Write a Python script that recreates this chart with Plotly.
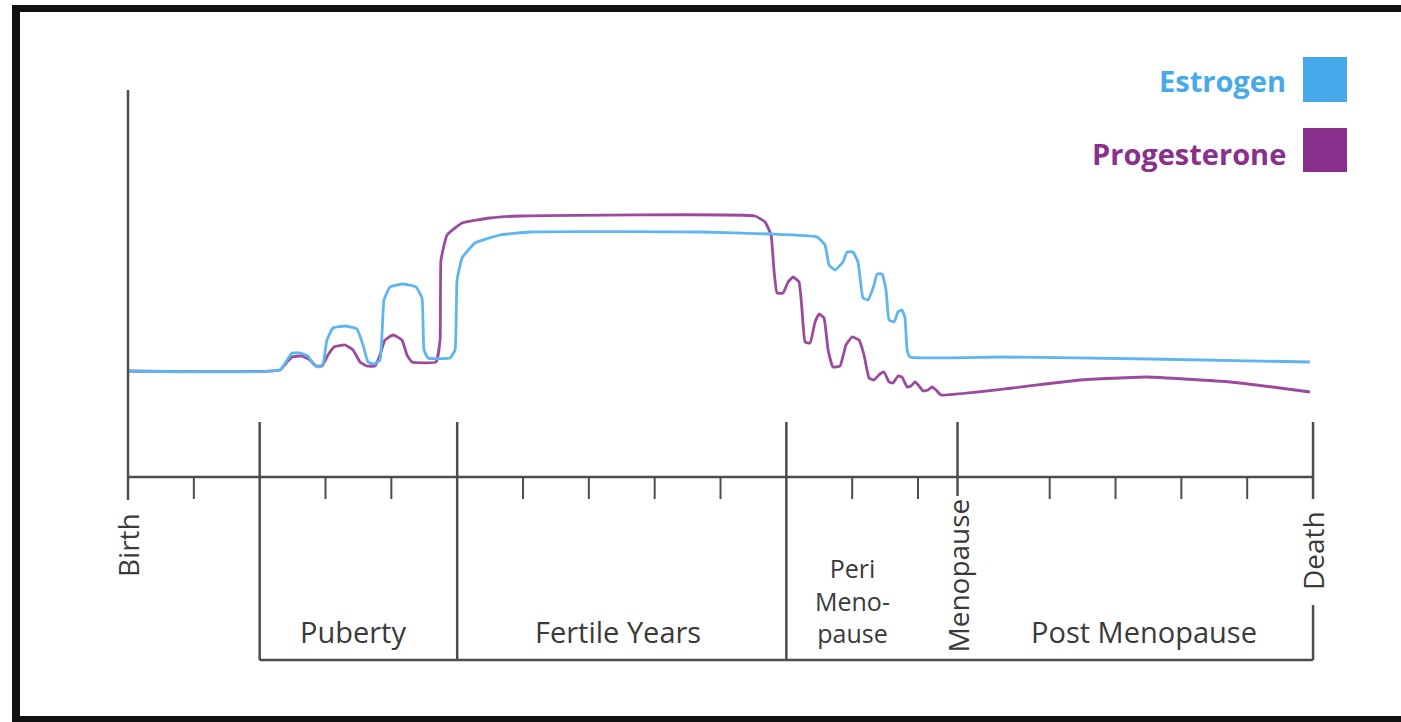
import plotly.graph_objects as go

# ---------------- data (x = age in years, Birth=0, Death=90; y = relative hormone level) ----------------
estrogen_x = [0, 11.54, 12.08, 12.46, 13.06, 13.67, 14.05, 14.43, 14.81, 15.11, 15.57, 16.48, 17.39, 17.85,
              18.23, 18.68, 19.14, 19.44, 19.90, 20.89, 21.87, 22.33, 22.48, 22.79, 24.46, 24.84, 24.99,
              25.37, 26.35, 28.25, 30.53, 43.44, 48.76, 52.33, 52.94, 53.24, 53.70, 54.30, 54.61, 55.06,
              55.44, 55.82, 56.20, 56.66, 56.89, 57.27, 57.57, 57.80, 58.18, 58.48, 58.78, 59.01, 59.17,
              59.39, 66.23, 77.62, 89.77]
estrogen_y = [10.6, 10.7, 11.7, 12.4, 12.4, 12.1, 11.3, 11.0, 11.3, 13.7, 14.9, 15.1, 14.8, 13.2,
              11.5, 11.3, 11.7, 17.7, 19.0, 19.3, 19.0, 17.9, 12.7, 11.9, 11.9, 12.7, 19.7,
              21.9, 23.4, 24.2, 24.5, 24.5, 24.3, 24.0, 23.2, 21.2, 20.7, 21.5, 22.5, 22.5,
              21.5, 17.9, 17.7, 19.2, 20.3, 20.3, 18.7, 15.7, 15.5, 16.5, 16.7, 15.9, 12.7,
              12.0, 12.0, 11.8, 11.5]

progesterone_x = [0, 11.54, 12.08, 12.46, 13.22, 13.82, 14.28, 14.73, 15.19, 15.65, 16.48, 17.09, 17.62,
                  18.15, 18.76, 19.14, 19.52, 20.13, 20.81, 21.19, 21.57, 23.39, 23.70, 23.77, 24.23,
                  25.37, 27.49, 29.77, 47.62, 48.38, 48.84, 49.06, 49.29, 49.75, 50.13, 50.51, 50.96,
                  51.19, 51.42, 51.80, 52.18, 52.48, 52.86, 53.17, 53.54, 54.08, 54.53, 54.99, 55.52,
                  55.90, 56.28, 56.66, 57.11, 57.42, 57.80, 58.10, 58.48, 58.78, 59.17, 59.47, 59.77,
                  60.08, 60.38, 60.76, 61.06, 61.37, 61.75, 67.22, 72.30, 77.39, 83.70, 87.49, 89.77]
progesterone_y = [10.6, 10.7, 11.5, 12.0, 12.1, 11.7, 11.1, 11.1, 12.2, 13.0, 13.2, 12.7, 11.5,
                  11.1, 11.1, 12.2, 13.7, 14.2, 13.7, 12.2, 11.5, 11.5, 13.7, 21.7, 24.2,
                  25.4, 25.9, 26.1, 26.1, 25.5, 24.2, 20.7, 18.4, 18.4, 19.5, 20.0, 19.5,
                  16.7, 13.5, 13.4, 15.5, 16.3, 15.9, 12.7, 11.0, 11.1, 13.2, 14.0, 13.7,
                  12.2, 9.9, 9.7, 10.3, 10.5, 9.5, 9.4, 10.1, 10.0, 9.0, 9.1, 9.5,
                  9.1, 8.6, 8.7, 9.0, 8.7, 8.2, 8.9, 9.7, 10.0, 9.5, 8.9, 8.5]

birth_age = 0
death_age = 90
menopause_age = 63
stage_bounds = [10, 25, 50]                       # puberty start, fertile start, peri start
minor_ticks = [5, 15, 20, 30, 35, 40, 45, 55, 60, 70, 75, 80, 85]
stage_labels = ["Puberty", "Fertile Years", "Peri<br>Meno-<br>pause", "Post Menopause"]
stage_label_x = [17.1, 37.2, 55.0, 77.2]
marker_labels = ["Birth", "Menopause", "Death"]
marker_x = [birth_age, menopause_age, death_age]
legend_names = ["Estrogen", "Progesterone"]

# ---------------- styles ----------------
W, H = 1401, 722
EST_LINE = "#5fb6ee"
PRO_LINE = "#9c4a9e"
EST_BOX = "#45a9ea"
PRO_BOX = "#8b2f8c"
AX = "#4d4d4d"
TXT = "#3a3a3a"
FONT = "Open Sans"
LBL_SIZE = 29

fig = go.Figure()
fig.add_trace(go.Scatter(x=progesterone_x, y=progesterone_y, mode="lines", name=legend_names[1],
                         line=dict(color=PRO_LINE, width=2.8, shape="spline", smoothing=0.35)))
fig.add_trace(go.Scatter(x=estrogen_x, y=estrogen_y, mode="lines", name=legend_names[0],
                         line=dict(color=EST_LINE, width=2.8, shape="spline", smoothing=0.35)))

shapes = []
def seg(x0, y0, x1, y1, w=2.5, color=AX):
    shapes.append(dict(type="line", xref="x", yref="y", x0=x0, y0=y0, x1=x1, y1=y1,
                       line=dict(color=color, width=w)))

# main axes
seg(birth_age, 0, death_age, 0)
seg(birth_age, -2.3, birth_age, 38.7)
for t in minor_ticks:
    seg(t, 0, t, -2.2, w=2)
for b in stage_bounds:
    seg(b, 5.5, b, -18.3)
seg(stage_bounds[0], -18.3, death_age, -18.3)
seg(menopause_age, 5.5, menopause_age, -1.9)
seg(death_age, 5.5, death_age, -2.2)
seg(death_age, -12.8, death_age, -18.3)

# legend squares (paper coords)
def pbox(x0, y0, x1, y1, color):
    shapes.append(dict(type="rect", xref="paper", yref="paper", x0=x0 / W, x1=x1 / W,
                       y0=1 - y1 / H, y1=1 - y0 / H, fillcolor=color, line=dict(width=0)))
pbox(1303, 57, 1347, 102, EST_BOX)
pbox(1303, 128, 1347, 172, PRO_BOX)

# frame border
def pline(x0, y0, x1, y1, w):
    shapes.append(dict(type="line", xref="paper", yref="paper", x0=x0 / W, x1=x1 / W,
                       y0=1 - y0 / H, y1=1 - y1 / H, line=dict(color="#111111", width=w)))
pline(16, 5, 16, 722, 8)
pline(12, 8.5, W, 8.5, 7)
pline(12, 719, W, 719, 6)

annotations = []
for lbl, x in zip(stage_labels[:2] + stage_labels[3:], stage_label_x[:2] + stage_label_x[3:]):
    annotations.append(dict(x=x, y=-15.4, xref="x", yref="y", text=lbl, showarrow=False,
                            font=dict(family=FONT, size=LBL_SIZE, color=TXT)))
annotations.append(dict(x=stage_label_x[2], y=-12.3, xref="x", yref="y", text=stage_labels[2],
                        showarrow=False, font=dict(family=FONT, size=LBL_SIZE - 4, color=TXT)))
for lbl, x, yy in zip(marker_labels, marker_x, [-6.8, -9.9, -7.4]):
    annotations.append(dict(x=x, y=yy, xref="x", yref="y", text=lbl, showarrow=False, textangle=-90,
                            font=dict(family=FONT, size=LBL_SIZE - 1, color=TXT)))

annotations.append(dict(x=1288 / W, y=1 - 80 / H, xref="paper", yref="paper", text="<b>Estrogen</b>",
                        xanchor="right", yanchor="middle", showarrow=False,
                        font=dict(family=FONT, size=29, color=EST_BOX)))
annotations.append(dict(x=1288 / W, y=1 - 154 / H, xref="paper", yref="paper", text="<b>Progesterone</b>",
                        xanchor="right", yanchor="middle", showarrow=False,
                        font=dict(family=FONT, size=29, color=PRO_BOX)))

fig.update_layout(
    width=W, height=H, margin=dict(l=0, r=0, t=0, b=0),
    paper_bgcolor="white", plot_bgcolor="white", showlegend=False,
    xaxis=dict(range=[-128 / 13.167, (W - 128) / 13.167], visible=False, fixedrange=True),
    yaxis=dict(range=[(477 - H) / 10, 477 / 10], visible=False, fixedrange=True),
    shapes=shapes, annotations=annotations,
)

fig.write_html("out.html", config={"displayModeBar": False},
               post_script="document.body.style.margin='0';document.body.style.overflow='hidden';")
